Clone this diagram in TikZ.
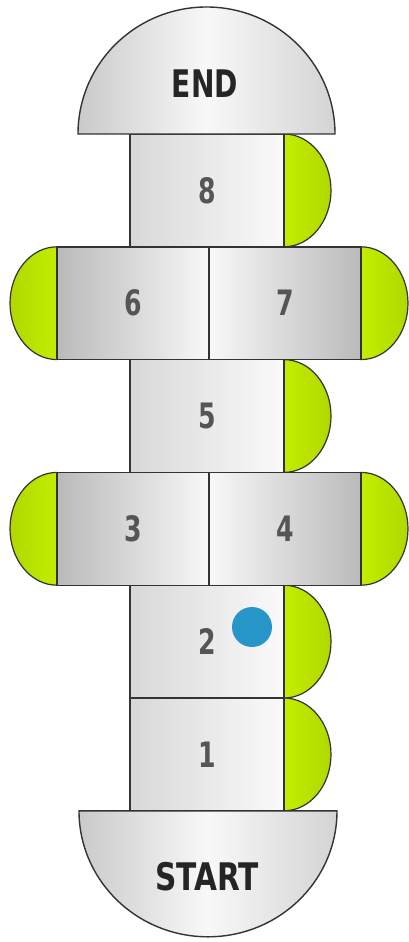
\documentclass[tikz,border=0pt]{standalone}
\usepackage{fontspec}
\setmainfont{DejaVu Sans}
\definecolor{edge}{HTML}{333333}
\definecolor{numgray}{HTML}{555555}
\definecolor{titlegray}{HTML}{252525}
\definecolor{greenlo}{HTML}{B0D800}
\definecolor{greenhi}{HTML}{C2EE00}
\definecolor{dotblue}{HTML}{2696C8}
\definecolor{lightL}{HTML}{D8D8D8}
\definecolor{lightR}{HTML}{FAFAFA}
\definecolor{darkG}{HTML}{BABABA}
\definecolor{whiteG}{HTML}{F8F8F8}
\definecolor{domeL}{HTML}{CACACA}
\definecolor{domeR}{HTML}{D4D4D4}
\newcommand{\numtxt}[1]{\scalebox{0.72}[1]{#1}}
\begin{document}
\begin{tikzpicture}[x=1pt,y=-1pt,
  cell/.style={draw=edge, line width=1.4pt, inner sep=0pt,
    minimum width=154pt, minimum height=112.8pt,
    font=\bfseries\fontsize{35}{35}\selectfont, text=numgray},
  colcell/.style={cell, left color=lightL, right color=lightR},
  wideL/.style={cell, minimum width=152pt, left color=darkG, right color=whiteG},
  wideR/.style={cell, minimum width=152pt, left color=whiteG, right color=darkG},
  greenR/.style={draw=edge, line width=1.2pt, left color=greenhi, right color=greenlo},
  greenL/.style={draw=edge, line width=1.2pt, left color=greenlo, right color=greenhi},
  dome/.style={draw=edge, line width=1.4pt, left color=domeL, right color=domeR, middle color=whiteG},
  title/.style={font=\bfseries\fontsize{38}{38}\selectfont, text=titlegray, inner sep=0pt}
]
\useasboundingbox (0,0) rectangle (408,942);

% green half disks (drawn first, cells overlap flat edges)
\path[greenR] (284,134) arc[start angle=-90,end angle=90,x radius=47,y radius=56.4] -- cycle;
\path[greenL] (57,246.8) arc[start angle=270,end angle=90,x radius=47,y radius=56.4] -- cycle;
\path[greenR] (361,246.8) arc[start angle=-90,end angle=90,x radius=47,y radius=56.4] -- cycle;
\path[greenR] (284,359.6) arc[start angle=-90,end angle=90,x radius=47,y radius=56.4] -- cycle;
\path[greenL] (57,472.4) arc[start angle=270,end angle=90,x radius=47,y radius=56.4] -- cycle;
\path[greenR] (361,472.4) arc[start angle=-90,end angle=90,x radius=47,y radius=56.4] -- cycle;
\path[greenR] (284,585.2) arc[start angle=-90,end angle=90,x radius=47,y radius=56.4] -- cycle;
\path[greenR] (284,698) arc[start angle=-90,end angle=90,x radius=47,y radius=56.4] -- cycle;

% cells
\node[colcell] (c8) at (207,190.4) {\numtxt{8}};
\node[wideL]   (c6) at (133,303.2) {\numtxt{6}};
\node[wideR]   (c7) at (285,303.2) {\numtxt{7}};
\node[colcell] (c5) at (207,416)   {\numtxt{5}};
\node[wideL]   (c3) at (133,528.8) {\numtxt{3}};
\node[wideR]   (c4) at (285,528.8) {\numtxt{4}};
\node[colcell] (c2) at (207,641.6) {\numtxt{2}};
\node[colcell] (c1) at (207,754.4) {\numtxt{1}};

% domes
\path[dome] (78,134) arc[start angle=180,end angle=360,x radius=128.5,y radius=127] -- cycle;
\path[dome] (337,810.8) arc[start angle=0,end angle=180,x radius=129,y radius=126] -- cycle;
\node[title] (endt) at (205,84) {\scalebox{0.74}[1]{END}};
\node[title] (startt) at (207,877) {\scalebox{0.78}[1]{START}};

% blue marker
\node[circle, fill=dotblue, inner sep=0pt, minimum size=40pt] (dot) at (252,627) {};
\end{tikzpicture}
\end{document}
